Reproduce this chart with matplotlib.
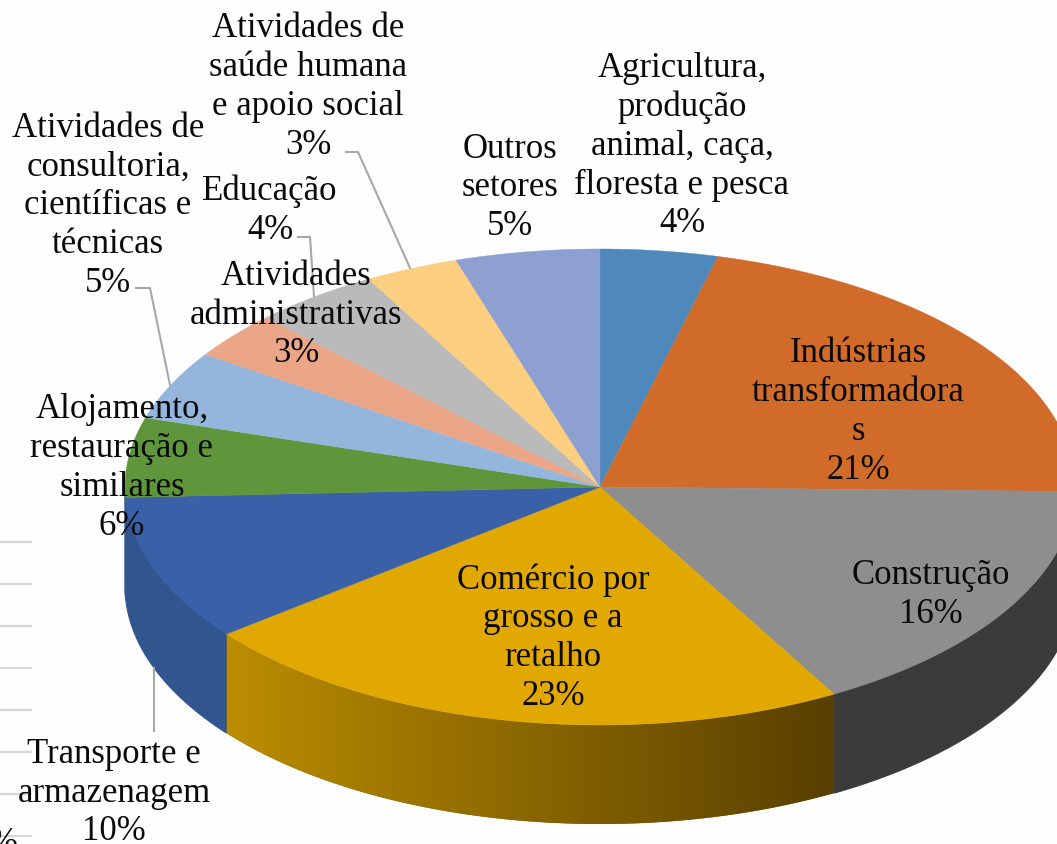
import numpy as np
import matplotlib
matplotlib.use("Agg")
import matplotlib.pyplot as plt
from matplotlib.patches import Polygon

# ---- data ----
labels = ["Agricultura,\nprodução\nanimal, caça,\nfloresta e pesca",
          "Indústrias\ntransformadora\ns",
          "Construção",
          "Comércio por\ngrosso e a\nretalho",
          "Transporte e\narmazenagem",
          "Alojamento,\nrestauração e\nsimilares",
          "Atividades de\nconsultoria,\ncientíficas e\ntécnicas",
          "Atividades\nadministrativas",
          "Educação",
          "Atividades de\nsaúde humana\ne apoio social",
          "Outros\nsetores"]
percent_labels = [4, 21, 16, 23, 10, 6, 5, 3, 4, 3, 5]
shares = [4.0, 21.3, 16.5, 22.6, 9.9, 5.4, 4.7, 3.2, 4.3, 3.2, 4.9]

top_colors = ["#4f88bb", "#d06b29", "#8e8e8e", "#e0a800", "#3a61a8", "#5f963c",
              "#94b6dd", "#eba688", "#bababa", "#fbce80", "#8e9fd1"]
wall_colors = {1: "#3b3b3b", 2: "#3b3b3b", 4: "#30558f", 5: "#30558f"}

label_pos = [(682, 146), (858, 412), (931, 595), (553, 638), (114, 793), (122, 468),
             (108, 206), (296, 315), (270, 211), (308, 87), (510, 188)]

leaders = [[(154, 668), (154, 731)],
           [(136, 288), (150, 288), (170, 385)],
           [(298, 237), (310, 237), (314, 296)],
           [(346, 152), (358, 152), (410, 268)]]
bg_rule_y = [542, 584, 626, 668, 710, 752, 794, 836]

# ---- geometry ----
CX, CY, RX, RY, DEPTH = 600, 487, 475, 238, 99

plt.rcParams["font.family"] = ["Liberation Serif", "DejaVu Serif"]
fig = plt.figure(figsize=(10.57, 8.44), dpi=100, facecolor="#fefefe")
ax = fig.add_axes([0, 0, 1, 1])
ax.set_xlim(0, 1057)
ax.set_ylim(844, 0)
ax.axis("off")


def rim(theta):
    return CX + RX * np.sin(theta), CY - RY * np.cos(theta)


edges = np.radians(np.concatenate([[0], np.cumsum(shares)]) * 3.6)

for y in bg_rule_y:
    ax.plot([0, 31], [y, y], color="#d6d6d6", lw=1.6, zorder=1)
ax.text(-11, 844, "%", fontsize=25, ha="left", va="center", color="#111111", zorder=1)

# side walls (only the front half of the disc is visible)
order = [i for i in range(len(shares)) if i != 3] + [3]
for i in order:
    a = max(edges[i], np.pi / 2)
    b = min(edges[i + 1], 3 * np.pi / 2)
    if b <= a:
        continue
    t = np.linspace(a, b, 200)
    x, y = rim(t)
    verts = np.r_[np.c_[x, y], np.c_[x[::-1], y[::-1] + DEPTH]]
    if i == 3:
        poly = Polygon(verts, closed=True, fc="#8a6800", ec="none", zorder=2)
        ax.add_patch(poly)
        grad = np.linspace(0, 1, 256)[None, :, None]
        c0 = np.array([0xbb, 0x8d, 0x00]) / 255
        c1 = np.array([0x58, 0x3f, 0x00]) / 255
        img = c0 + (c1 - c0) * grad
        im = ax.imshow(img, extent=(x.min(), x.max(), y.max() + DEPTH, y.min()),
                       aspect="auto", zorder=2)
        im.set_clip_path(poly)
    else:
        col = wall_colors.get(i, top_colors[i])
        ax.add_patch(Polygon(verts, closed=True, fc=col, ec=col, lw=0.8, zorder=2))
ax.set_xlim(0, 1057)
ax.set_ylim(844, 0)

# top face
for i, c in enumerate(top_colors):
    t = np.linspace(edges[i], edges[i + 1], 120)
    x, y = rim(t)
    verts = np.r_[[[CX, CY]], np.c_[x, y]]
    ax.add_patch(Polygon(verts, closed=True, fc=c, ec=c, lw=0.3, zorder=3))

# leader lines
for line in leaders:
    xs, ys = zip(*line)
    ax.plot(xs, ys, color="#a8a8a8", lw=1.5, zorder=4, solid_joinstyle="round")

# labels
for lab, pct, (x, y) in zip(labels, percent_labels, label_pos):
    ax.text(x, y, f"{lab}\n{pct}%", fontsize=25, ha="center", va="center",
            linespacing=1.23, color="#0a0a0a", zorder=5)

fig.savefig("out.png", dpi=100, facecolor=fig.get_facecolor())
